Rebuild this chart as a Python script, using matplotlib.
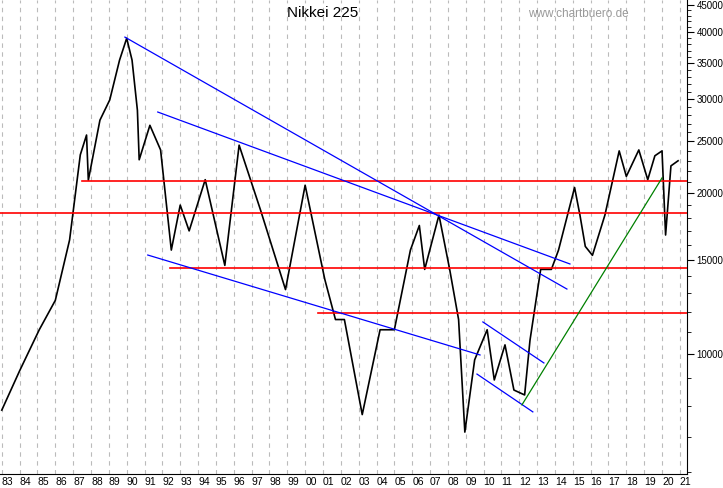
import numpy as np
import matplotlib.pyplot as plt
from matplotlib.ticker import FixedLocator, NullFormatter

# Nikkei 225, approximate turning points
years = [1983.0, 1984.0, 1985.1, 1986.0, 1986.8, 1987.4, 1987.75, 1987.85, 1988.5, 1989.05,
         1989.6, 1990.0, 1990.3, 1990.6, 1990.7, 1991.3, 1991.9, 1992.5, 1993.0, 1993.5,
         1994.4, 1995.5, 1996.3, 1997.5, 1998.9, 2000.0, 2001.1, 2001.7, 2002.2, 2003.2,
         2004.2, 2005.0, 2005.9, 2006.4, 2006.7, 2007.5, 2008.1, 2008.6, 2008.95, 2009.5,
         2010.2, 2010.6, 2011.2, 2011.7, 2012.3, 2012.6, 2013.2, 2013.8, 2014.2, 2015.1,
         2015.4, 2015.7, 2016.1, 2016.8, 2017.6, 2018.0, 2018.7, 2019.2, 2019.6, 2020.0,
         2020.2, 2020.5, 2020.9]
values = [7850, 9300, 11100, 12600, 16350, 23600, 25700, 21150, 27400, 29900,
          35500, 39000, 35500, 28600, 23100, 26800, 24100, 15650, 19000, 17000,
          21200, 14650, 24600, 18600, 13200, 20700, 13800, 11600, 11600, 7700,
          11100, 11100, 15650, 17400, 14400, 18200, 14400, 11600, 7140, 9750,
          11100, 8940, 10400, 8560, 8380, 10600, 14400, 14400, 15650, 20500,
          18200, 15900, 15300, 18200, 24000, 21500, 24100, 21200, 23500, 24000,
          16700, 22500, 23000]

# support / resistance levels: (value, start year)
red_levels = [21050, 18350, 14500, 11950]
red_starts = [1987.48, 1982.9, 1992.42, 2000.71]

# trend lines: ((x0, y0), (x1, y1))
blue_lines = [((1989.9, 39200), (2014.67, 13230)),
              ((1991.74, 28380), (2014.84, 14740)),
              ((1991.18, 15320), (2009.8, 9957)),
              ((2009.96, 11480), (2013.38, 9620)),
              ((2009.63, 9170), (2012.76, 7790))]
green_line = ((2012.15, 8030), (2020.0, 21360))

year_ticks = list(range(1983, 2022))
year_labels = ['%02d' % (y % 100) for y in year_ticks]
y_ticks = [10000, 15000, 20000, 25000, 30000, 35000, 40000, 45000]

fig = plt.figure(figsize=(7.23, 4.88), dpi=100)
ax = fig.add_axes([0, 14 / 488, 687 / 723, 474 / 488])
ax.set_yscale('log')
ax.set_xlim(1982.9, 2021.4)
ax.set_ylim(5960, 46000)

for y in year_ticks:
    ax.axvline(y, color='#bbbbbb', ls=(0, (4, 4)), lw=0.8, zorder=0)

ax.plot(years, values, color='black', lw=1.2, zorder=3)

for lev, st in zip(red_levels, red_starts):
    ax.plot([st, 2021.4], [lev, lev], color='red', lw=1.2, zorder=4)
for (x0, y0), (x1, y1) in blue_lines:
    ax.plot([x0, x1], [y0, y1], color='blue', lw=0.9, zorder=4)
ax.plot([green_line[0][0], green_line[1][0]], [green_line[0][1], green_line[1][1]],
        color='green', lw=0.9, zorder=4)

ax.yaxis.tick_right()
ax.yaxis.set_major_locator(FixedLocator(y_ticks))
ax.yaxis.set_minor_locator(FixedLocator(np.arange(6000, 46000, 1000)))
ax.yaxis.set_minor_formatter(NullFormatter())
ax.set_yticklabels([str(v) for v in y_ticks], fontsize=7, family='Liberation Sans')
ax.tick_params(axis='y', which='major', length=5, pad=2)
ax.tick_params(axis='y', which='minor', length=3)

ax.set_xticks(year_ticks)
ax.set_xticklabels(year_labels, fontsize=7.5, family='Liberation Sans', ha='left')
ax.tick_params(axis='x', length=0, pad=2)
ax.spines['top'].set_visible(False)
ax.spines['left'].set_visible(False)

ax.text(0.47, 0.965, 'Nikkei 225', transform=ax.transAxes, ha='center',
        fontsize=11, family='Liberation Sans')
ax.text(0.915, 0.965, 'www.chartbuero.de', transform=ax.transAxes, ha='right',
        fontsize=8.5, color='#999999', family='Liberation Sans')

fig.savefig('out.png', dpi=100)
